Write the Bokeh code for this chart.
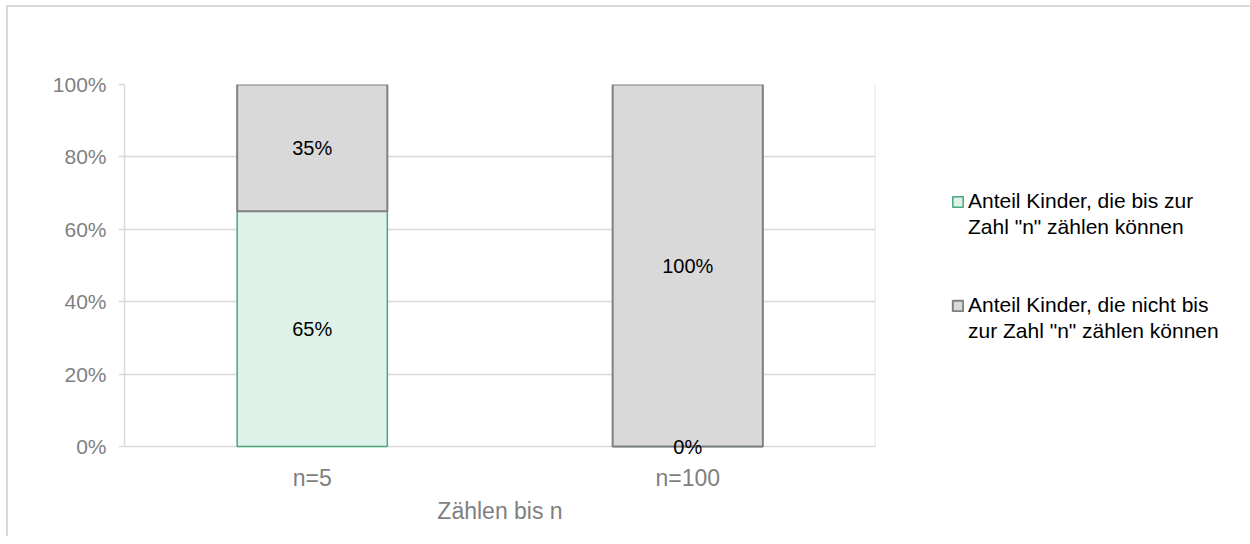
from bokeh.plotting import figure
from bokeh.models import FactorRange, Range1d, FixedTicker, Legend, LegendItem, ColumnDataSource, LabelSet
from bokeh.embed import file_html
from bokeh.resources import INLINE
from bokeh.core.properties import value

categories = ["n=5", "n=100"]
can_count = [0.65, 0.0]
cannot_count = [0.35, 1.0]
series_line1 = ['Anteil Kinder, die bis zur', 'Anteil Kinder, die nicht bis']
series_line2 = ['Zahl "n" zählen können', 'zur Zahl "n" zählen können']
y_ticks = [0, 0.2, 0.4, 0.6, 0.8, 1.0]
y_tick_labels = ["0%", "20%", "40%", "60%", "80%", "100%"]
x_title = "Zählen bis n"

FONT = "Liberation Sans"
GREEN_FILL = "#def2e9"
GREEN_LINE = "#4aa67a"
GREY_FILL = "#d9d9d9"
GREY_LINE = "#808080"
GRID = "#d9d9d9"

FRAME_H = 362      # height of the 0..100% part
EXT = 12           # extra frame room below 0 so the "0%" label is not clipped

p = figure(x_range=FactorRange(*categories, range_padding=0),
           y_range=Range1d(-EXT / FRAME_H, 1),
           width=1242, height=536, frame_width=751, frame_height=FRAME_H + EXT,
           min_border_left=124, min_border_top=84, min_border_bottom=90 - EXT, min_border_right=367,
           output_backend="svg", toolbar_location=None)

# light outer chart border (left and top edges visible in the window)
p.border_fill_alpha = 0
p.background_fill_color = "white"
p.styles = {
    "background": (f"linear-gradient({GRID},{GRID}) 6px 5px / 2px 100% no-repeat, "
                   f"linear-gradient({GRID},{GRID}) 6px 5px / 100% 2px no-repeat, white"),
}

src = ColumnDataSource(dict(cat=categories, a=can_count, b=cannot_count))
rs = p.vbar_stack(["a", "b"], x="cat", width=0.4, source=src,
                  fill_color=[GREEN_FILL, GREY_FILL], line_color=[GREEN_LINE, GREY_LINE],
                  line_width=[1.5, 2])

# right border of the plot area
p.segment(x0=[len(categories)], x1=[len(categories)], y0=[0], y1=[1],
          line_color=GRID, line_width=1.5)

# data labels
lab_x, lab_y, lab_t = [], [], []
for c, a, b in zip(categories, can_count, cannot_count):
    lab_x += [c, c]
    lab_y += [a / 2, a + b / 2]
    lab_t += [f"{round(a*100)}%", f"{round(b*100)}%"]
lsrc = ColumnDataSource(dict(x=lab_x, y=lab_y, t=lab_t))
p.add_layout(LabelSet(x="x", y="y", text="t", source=lsrc, text_align="center",
                      text_baseline="middle", text_font=value(FONT), text_font_size="20px",
                      text_color="#000000", level="overlay"))

# axes
p.yaxis.ticker = FixedTicker(ticks=y_ticks)
p.yaxis.bounds = (0, 1)
p.yaxis.major_label_overrides = {t: l for t, l in zip(y_ticks, y_tick_labels)}
p.yaxis.major_label_text_font = FONT
p.yaxis.major_label_text_font_size = "21px"
p.yaxis.major_label_text_color = "#7f7f7f"
p.yaxis.axis_line_color = GRID
p.yaxis.axis_line_width = 1.5
p.yaxis.major_tick_line_color = GRID
p.yaxis.major_tick_line_width = 1.5
p.yaxis.major_tick_out = 6
p.yaxis.major_tick_in = 0
p.yaxis.minor_tick_line_color = None
p.yaxis.major_label_standoff = 12

p.xaxis.axis_line_color = None
p.xaxis.major_tick_line_color = None
p.xaxis.minor_tick_line_color = None
p.xaxis.major_label_text_font = FONT
p.xaxis.major_label_text_font_size = "23px"
p.xaxis.major_label_text_color = "#7f7f7f"
p.xaxis.major_label_standoff = 0
p.xaxis.axis_label = x_title
p.xaxis.axis_label_text_font = FONT
p.xaxis.axis_label_text_font_size = "23px"
p.xaxis.axis_label_text_font_style = "normal"
p.xaxis.axis_label_text_color = "#7f7f7f"
p.xaxis.axis_label_standoff = 4

p.xgrid.grid_line_color = None
p.ygrid.grid_line_color = GRID
p.ygrid.grid_line_width = 1.5
p.outline_line_color = None

# legend: first lines carry the colour squares, second lines / gaps use an invisible glyph
blank = p.vbar(x=[], top=[], width=0.4, fill_alpha=0, line_alpha=0)
items = [
    LegendItem(label=series_line1[0], renderers=[rs[0]]),
    LegendItem(label=series_line2[0], renderers=[blank]),
    LegendItem(label=" ", renderers=[blank]),
    LegendItem(label=" ", renderers=[blank]),
    LegendItem(label=series_line1[1], renderers=[rs[1]]),
    LegendItem(label=series_line2[1], renderers=[blank]),
]
legend = Legend(items=items, orientation="vertical", location=(76, 114),
                label_text_font=FONT, label_text_font_size="21px", label_text_color="#000000",
                glyph_width=13, glyph_height=13, label_height=26, label_standoff=4,
                spacing=0, padding=0, margin=0, border_line_color=None, background_fill_alpha=0)
p.add_layout(legend, "right")

open("out.html", "w").write(file_html(p, INLINE))
